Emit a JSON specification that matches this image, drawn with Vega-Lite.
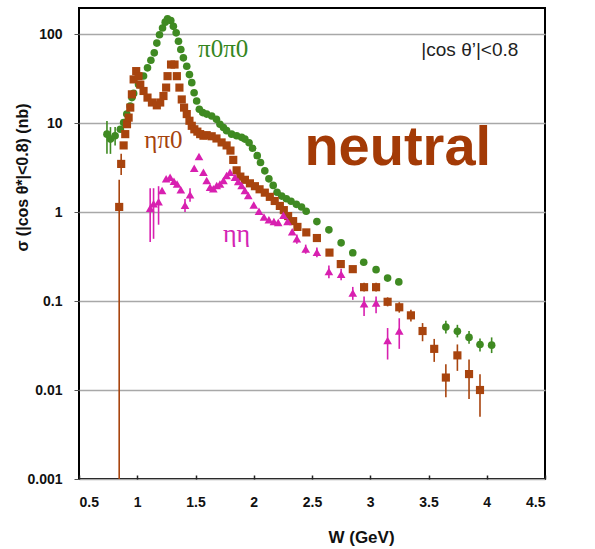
{
  "$schema": "https://vega.github.io/schema/vega-lite/v6.json",
  "width": 466,
  "height": 471,
  "autosize": "none",
  "padding": {"left": 79, "top": 8, "right": 50, "bottom": 70},
  "background": "white",
  "config": {
    "view": {"stroke": "#000", "strokeWidth": 2},
    "font": "Liberation Sans",
    "axis": {"labelFont": "Liberation Sans", "labelFontWeight": "bold", "labelFontSize": 14, "labelColor": "#111", "titleFont": "Liberation Sans", "titleFontWeight": "bold", "titleColor": "#111", "domain": false}
  },
  "datasets": {
    "points": [
      {"series":"pi0pi0","W":0.74,"sigma":7.5,"lo":4.5,"hi":10.5},
      {"series":"pi0pi0","W":0.77,"sigma":6.6,"lo":4.5,"hi":9},
      {"series":"pi0pi0","W":0.81,"sigma":7.2,"lo":5.6,"hi":9},
      {"series":"pi0pi0","W":0.855,"sigma":8.5},
      {"series":"pi0pi0","W":0.883,"sigma":10.1},
      {"series":"pi0pi0","W":0.91,"sigma":12.6},
      {"series":"pi0pi0","W":0.94,"sigma":15.5},
      {"series":"pi0pi0","W":0.954,"sigma":19.3},
      {"series":"pi0pi0","W":0.969,"sigma":21.5},
      {"series":"pi0pi0","W":1.011,"sigma":27},
      {"series":"pi0pi0","W":1.054,"sigma":33.7},
      {"series":"pi0pi0","W":1.088,"sigma":41.7},
      {"series":"pi0pi0","W":1.117,"sigma":50.8},
      {"series":"pi0pi0","W":1.146,"sigma":61.4},
      {"series":"pi0pi0","W":1.168,"sigma":79},
      {"series":"pi0pi0","W":1.191,"sigma":98},
      {"series":"pi0pi0","W":1.217,"sigma":117},
      {"series":"pi0pi0","W":1.24,"sigma":136},
      {"series":"pi0pi0","W":1.26,"sigma":148},
      {"series":"pi0pi0","W":1.288,"sigma":142},
      {"series":"pi0pi0","W":1.31,"sigma":122},
      {"series":"pi0pi0","W":1.334,"sigma":103},
      {"series":"pi0pi0","W":1.354,"sigma":83},
      {"series":"pi0pi0","W":1.374,"sigma":67},
      {"series":"pi0pi0","W":1.396,"sigma":54},
      {"series":"pi0pi0","W":1.425,"sigma":43.5},
      {"series":"pi0pi0","W":1.448,"sigma":35},
      {"series":"pi0pi0","W":1.468,"sigma":28.4},
      {"series":"pi0pi0","W":1.488,"sigma":21.9},
      {"series":"pi0pi0","W":1.51,"sigma":17.7},
      {"series":"pi0pi0","W":1.533,"sigma":14.3},
      {"series":"pi0pi0","W":1.562,"sigma":13.1},
      {"series":"pi0pi0","W":1.596,"sigma":12.6},
      {"series":"pi0pi0","W":1.639,"sigma":12},
      {"series":"pi0pi0","W":1.68,"sigma":11},
      {"series":"pi0pi0","W":1.71,"sigma":9.7},
      {"series":"pi0pi0","W":1.74,"sigma":8.9},
      {"series":"pi0pi0","W":1.767,"sigma":8.2},
      {"series":"pi0pi0","W":1.81,"sigma":7.5},
      {"series":"pi0pi0","W":1.853,"sigma":7.2},
      {"series":"pi0pi0","W":1.896,"sigma":6.9},
      {"series":"pi0pi0","W":1.924,"sigma":6.6},
      {"series":"pi0pi0","W":1.96,"sigma":6.0},
      {"series":"pi0pi0","W":1.99,"sigma":5.2},
      {"series":"pi0pi0","W":2.03,"sigma":4.3},
      {"series":"pi0pi0","W":2.058,"sigma":3.6},
      {"series":"pi0pi0","W":2.095,"sigma":2.9},
      {"series":"pi0pi0","W":2.13,"sigma":2.36},
      {"series":"pi0pi0","W":2.167,"sigma":1.99},
      {"series":"pi0pi0","W":2.2,"sigma":1.67},
      {"series":"pi0pi0","W":2.24,"sigma":1.51},
      {"series":"pi0pi0","W":2.28,"sigma":1.41},
      {"series":"pi0pi0","W":2.32,"sigma":1.32},
      {"series":"pi0pi0","W":2.366,"sigma":1.22},
      {"series":"pi0pi0","W":2.41,"sigma":1.14},
      {"series":"pi0pi0","W":2.45,"sigma":1.02},
      {"series":"pi0pi0","W":2.542,"sigma":0.78},
      {"series":"pi0pi0","W":2.645,"sigma":0.63},
      {"series":"pi0pi0","W":2.75,"sigma":0.45},
      {"series":"pi0pi0","W":2.85,"sigma":0.348},
      {"series":"pi0pi0","W":2.944,"sigma":0.273},
      {"series":"pi0pi0","W":3.05,"sigma":0.225},
      {"series":"pi0pi0","W":3.149,"sigma":0.181},
      {"series":"pi0pi0","W":3.245,"sigma":0.164},
      {"series":"pi0pi0","W":3.649,"sigma":0.051,"lo":0.043,"hi":0.06},
      {"series":"pi0pi0","W":3.748,"sigma":0.0456,"lo":0.039,"hi":0.054},
      {"series":"pi0pi0","W":3.848,"sigma":0.039,"lo":0.033,"hi":0.046},
      {"series":"pi0pi0","W":3.942,"sigma":0.0325,"lo":0.027,"hi":0.038},
      {"series":"pi0pi0","W":4.042,"sigma":0.0319,"lo":0.026,"hi":0.039},
      {"series":"etapi0","W":0.845,"sigma":1.14,"lo":0.0005,"hi":2.3},
      {"series":"etapi0","W":0.862,"sigma":3.47,"lo":2.6,"hi":4.5},
      {"series":"etapi0","W":0.883,"sigma":5.6},
      {"series":"etapi0","W":0.897,"sigma":7.5},
      {"series":"etapi0","W":0.912,"sigma":9.7},
      {"series":"etapi0","W":0.926,"sigma":11.5},
      {"series":"etapi0","W":0.94,"sigma":14.9},
      {"series":"etapi0","W":0.954,"sigma":21},
      {"series":"etapi0","W":0.969,"sigma":30.9},
      {"series":"etapi0","W":0.991,"sigma":38.3},
      {"series":"etapi0","W":1.011,"sigma":33.6},
      {"series":"etapi0","W":1.026,"sigma":27},
      {"series":"etapi0","W":1.054,"sigma":22.9},
      {"series":"etapi0","W":1.088,"sigma":19.3},
      {"series":"etapi0","W":1.126,"sigma":17},
      {"series":"etapi0","W":1.168,"sigma":15.8},
      {"series":"etapi0","W":1.197,"sigma":17},
      {"series":"etapi0","W":1.225,"sigma":20.1},
      {"series":"etapi0","W":1.248,"sigma":25},
      {"series":"etapi0","W":1.26,"sigma":33.6},
      {"series":"etapi0","W":1.29,"sigma":45.4},
      {"series":"etapi0","W":1.32,"sigma":45.4},
      {"series":"etapi0","W":1.34,"sigma":33.6},
      {"series":"etapi0","W":1.362,"sigma":25},
      {"series":"etapi0","W":1.382,"sigma":18.4},
      {"series":"etapi0","W":1.402,"sigma":14.9},
      {"series":"etapi0","W":1.425,"sigma":12.6},
      {"series":"etapi0","W":1.448,"sigma":10.6},
      {"series":"etapi0","W":1.468,"sigma":9.3},
      {"series":"etapi0","W":1.49,"sigma":8.5},
      {"series":"etapi0","W":1.516,"sigma":8.0},
      {"series":"etapi0","W":1.54,"sigma":7.5},
      {"series":"etapi0","W":1.568,"sigma":7.2},
      {"series":"etapi0","W":1.596,"sigma":7.3},
      {"series":"etapi0","W":1.639,"sigma":7.1},
      {"series":"etapi0","W":1.68,"sigma":6.7},
      {"series":"etapi0","W":1.724,"sigma":6.05},
      {"series":"etapi0","W":1.767,"sigma":5.6},
      {"series":"etapi0","W":1.8,"sigma":4.9},
      {"series":"etapi0","W":1.824,"sigma":3.85},
      {"series":"etapi0","W":1.853,"sigma":2.94},
      {"series":"etapi0","W":1.885,"sigma":2.5},
      {"series":"etapi0","W":1.924,"sigma":2.3},
      {"series":"etapi0","W":1.967,"sigma":2.1},
      {"series":"etapi0","W":2.01,"sigma":1.95},
      {"series":"etapi0","W":2.05,"sigma":1.8},
      {"series":"etapi0","W":2.095,"sigma":1.65},
      {"series":"etapi0","W":2.138,"sigma":1.48},
      {"series":"etapi0","W":2.18,"sigma":1.33},
      {"series":"etapi0","W":2.224,"sigma":1.17},
      {"series":"etapi0","W":2.258,"sigma":1.05},
      {"series":"etapi0","W":2.295,"sigma":0.9},
      {"series":"etapi0","W":2.338,"sigma":0.79},
      {"series":"etapi0","W":2.375,"sigma":0.68},
      {"series":"etapi0","W":2.451,"sigma":0.59},
      {"series":"etapi0","W":2.542,"sigma":0.51},
      {"series":"etapi0","W":2.65,"sigma":0.35},
      {"series":"etapi0","W":2.747,"sigma":0.26},
      {"series":"etapi0","W":2.85,"sigma":0.228},
      {"series":"etapi0","W":2.947,"sigma":0.143,"lo":0.128,"hi":0.16},
      {"series":"etapi0","W":3.05,"sigma":0.143,"lo":0.128,"hi":0.16},
      {"series":"etapi0","W":3.149,"sigma":0.098,"lo":0.087,"hi":0.11},
      {"series":"etapi0","W":3.249,"sigma":0.085,"lo":0.074,"hi":0.097},
      {"series":"etapi0","W":3.349,"sigma":0.069,"lo":0.059,"hi":0.08},
      {"series":"etapi0","W":3.449,"sigma":0.046,"lo":0.0353,"hi":0.0565},
      {"series":"etapi0","W":3.549,"sigma":0.029,"lo":0.0207,"hi":0.0375},
      {"series":"etapi0","W":3.649,"sigma":0.0138,"lo":0.0083,"hi":0.0195},
      {"series":"etapi0","W":3.748,"sigma":0.0245,"lo":0.0164,"hi":0.0325},
      {"series":"etapi0","W":3.848,"sigma":0.0151,"lo":0.0079,"hi":0.022},
      {"series":"etapi0","W":3.942,"sigma":0.01,"lo":0.005,"hi":0.015},
      {"series":"etaeta","W":1.111,"sigma":1.1,"lo":0.46,"hi":1.85},
      {"series":"etaeta","W":1.14,"sigma":1.24,"lo":0.5,"hi":1.85},
      {"series":"etaeta","W":1.183,"sigma":1.3,"lo":0.72,"hi":1.95},
      {"series":"etaeta","W":1.213,"sigma":1.75},
      {"series":"etaeta","W":1.248,"sigma":2.36},
      {"series":"etaeta","W":1.282,"sigma":2.46},
      {"series":"etaeta","W":1.315,"sigma":2.22},
      {"series":"etaeta","W":1.342,"sigma":2.07},
      {"series":"etaeta","W":1.374,"sigma":1.78},
      {"series":"etaeta","W":1.41,"sigma":1.19,"lo":1.0,"hi":1.4},
      {"series":"etaeta","W":1.453,"sigma":1.56,"lo":1.3,"hi":1.85},
      {"series":"etaeta","W":1.489,"sigma":3.1},
      {"series":"etaeta","W":1.53,"sigma":4.2},
      {"series":"etaeta","W":1.568,"sigma":2.8},
      {"series":"etaeta","W":1.596,"sigma":2.26},
      {"series":"etaeta","W":1.625,"sigma":1.9},
      {"series":"etaeta","W":1.653,"sigma":1.82},
      {"series":"etaeta","W":1.682,"sigma":1.99},
      {"series":"etaeta","W":1.71,"sigma":2.07},
      {"series":"etaeta","W":1.74,"sigma":2.26},
      {"series":"etaeta","W":1.767,"sigma":2.57},
      {"series":"etaeta","W":1.796,"sigma":2.8},
      {"series":"etaeta","W":1.839,"sigma":2.46},
      {"series":"etaeta","W":1.867,"sigma":2.2},
      {"series":"etaeta","W":1.896,"sigma":1.99},
      {"series":"etaeta","W":1.924,"sigma":1.75},
      {"series":"etaeta","W":1.953,"sigma":1.53},
      {"series":"etaeta","W":2.0,"sigma":1.2},
      {"series":"etaeta","W":2.045,"sigma":1.02},
      {"series":"etaeta","W":2.088,"sigma":0.88},
      {"series":"etaeta","W":2.13,"sigma":0.82},
      {"series":"etaeta","W":2.173,"sigma":0.78},
      {"series":"etaeta","W":2.21,"sigma":0.76},
      {"series":"etaeta","W":2.255,"sigma":0.92},
      {"series":"etaeta","W":2.29,"sigma":0.78},
      {"series":"etaeta","W":2.33,"sigma":0.6},
      {"series":"etaeta","W":2.37,"sigma":0.5,"lo":0.44,"hi":0.56},
      {"series":"etaeta","W":2.446,"sigma":0.385,"lo":0.34,"hi":0.43},
      {"series":"etaeta","W":2.542,"sigma":0.352,"lo":0.31,"hi":0.4},
      {"series":"etaeta","W":2.645,"sigma":0.215,"lo":0.18,"hi":0.25},
      {"series":"etaeta","W":2.75,"sigma":0.2,"lo":0.171,"hi":0.23},
      {"series":"etaeta","W":2.85,"sigma":0.123,"lo":0.103,"hi":0.144},
      {"series":"etaeta","W":2.947,"sigma":0.093,"lo":0.068,"hi":0.112},
      {"series":"etaeta","W":3.05,"sigma":0.095,"lo":0.073,"hi":0.112},
      {"series":"etaeta","W":3.149,"sigma":0.036,"lo":0.022,"hi":0.0497},
      {"series":"etaeta","W":3.249,"sigma":0.046,"lo":0.029,"hi":0.064}
    ]
  },
  "encoding": {
    "x": {
      "field": "W", "type": "quantitative",
      "scale": {"domain": [0.5, 4.5], "nice": false, "zero": false},
      "axis": {
        "values": [0.5, 1, 1.5, 2, 2.5, 3, 3.5, 4, 4.5], "format": "~g",
        "grid": false, "tickSize": -4, "tickColor": "#222", "tickWidth": 1.5,
        "labelPadding": 20,
        "title": "W (GeV)", "titleFontSize": 17, "titleX": 282, "titleY": 63,
        "titleBaseline": "alphabetic", "titleAlign": "center", "titleAnchor": null
      }
    }
  },
  "layer": [
    {
      "data": {"name": "points"},
      "mark": {"type": "rule", "strokeWidth": 1.6, "clip": true},
      "encoding": {
        "y": {"field": "lo", "type": "quantitative", "title": "σ (|cos θ*|<0.8) (nb)",
          "scale": {"type": "log", "domain": [0.001, 196], "nice": false},
          "axis": {
            "values": [0.001, 0.01, 0.1, 1, 10, 100], "format": "~g",
            "grid": true, "gridColor": "#a8a8a8", "gridWidth": 1.5,
            "tickSize": 5, "tickColor": "#555", "labelPadding": 12,
            "titleFontSize": 16, "titleAngle": 270, "titleX": -57, "titleY": 169,
            "titleBaseline": "middle", "titleAlign": "center", "titleAnchor": null
          }
        },
        "y2": {"field": "hi"},
        "color": {"field": "series", "type": "nominal", "legend": null,
          "scale": {"domain": ["pi0pi0", "etapi0", "etaeta"], "range": ["#3f8a22", "#a8440e", "#d820b0"]}}
      }
    },
    {
      "data": {"name": "points"},
      "mark": {"type": "point", "filled": true, "opacity": 1, "strokeWidth": 0},
      "encoding": {
        "y": {"field": "sigma", "type": "quantitative", "title": "σ (|cos θ*|<0.8) (nb)",
          "scale": {"type": "log", "domain": [0.001, 196], "nice": false}},
        "color": {"field": "series", "type": "nominal", "legend": null,
          "scale": {"domain": ["pi0pi0", "etapi0", "etaeta"], "range": ["#3a7d14", "#a3410b", "#d61cab"]}},
        "shape": {"field": "series", "type": "nominal", "legend": null,
          "scale": {"domain": ["pi0pi0", "etapi0", "etaeta"], "range": ["circle", "square", "triangle-up"]}},
        "size": {"field": "series", "type": "nominal", "legend": null,
          "scale": {"domain": ["pi0pi0", "etapi0", "etaeta"], "range": [58, 75, 50]}}
      }
    },
    {
      "data": {"values": [{"label": "neutral", "W": 3.236, "sigma": 3.37}]},
      "mark": {"type": "text", "font": "Liberation Sans", "fontWeight": "bold", "fontSize": 56, "color": "#a33a06", "align": "center", "baseline": "alphabetic"},
      "encoding": {"y": {"field": "sigma", "type": "quantitative", "scale": {"type": "log", "domain": [0.001, 196], "nice": false}}, "text": {"field": "label"}}
    },
    {
      "data": {"values": [{"label": "π0π0", "W": 1.738, "sigma": 55.6}]},
      "mark": {"type": "text", "font": "Liberation Serif", "fontSize": 25, "color": "#35861e", "align": "center", "baseline": "alphabetic"},
      "encoding": {"y": {"field": "sigma", "type": "quantitative", "scale": {"type": "log", "domain": [0.001, 196], "nice": false}}, "text": {"field": "label"}}
    },
    {
      "data": {"values": [{"label": "ηπ0", "W": 1.225, "sigma": 5.2}]},
      "mark": {"type": "text", "font": "Liberation Serif", "fontSize": 25, "color": "#a5430e", "align": "center", "baseline": "alphabetic"},
      "encoding": {"y": {"field": "sigma", "type": "quantitative", "scale": {"type": "log", "domain": [0.001, 196], "nice": false}}, "text": {"field": "label"}}
    },
    {
      "data": {"values": [{"label": "ηη", "W": 1.852, "sigma": 0.463}]},
      "mark": {"type": "text", "font": "Liberation Serif", "fontSize": 26, "color": "#d424b4", "align": "center", "baseline": "alphabetic"},
      "encoding": {"y": {"field": "sigma", "type": "quantitative", "scale": {"type": "log", "domain": [0.001, 196], "nice": false}}, "text": {"field": "label"}}
    },
    {
      "data": {"values": [{"label": "|cos θ’|<0.8", "W": 3.855, "sigma": 56.6}]},
      "mark": {"type": "text", "font": "Liberation Sans", "fontSize": 19, "color": "#222", "align": "center", "baseline": "alphabetic"},
      "encoding": {"y": {"field": "sigma", "type": "quantitative", "scale": {"type": "log", "domain": [0.001, 196], "nice": false}}, "text": {"field": "label"}}
    }
  ]
}
